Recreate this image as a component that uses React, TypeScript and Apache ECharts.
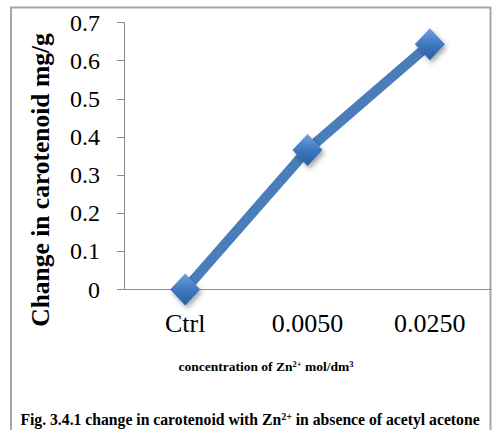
import React, { useEffect, useRef } from "react";
import * as echarts from "echarts";

const categories = ["Ctrl", "0.0050", "0.0250"];
const carotenoid = [0, 0.366, 0.643];
const yTicks = { min: 0, max: 0.7, interval: 0.1 };
const yTitle = "Change in carotenoid mg/g";
const xTitle = "{b|concentration of Zn}{s|2+}{b| mol/dm}{s|3}";
const caption = "{b|Fig. 3.4.1 change in carotenoid with Zn}{s|2+}{b| in absence of acetyl acetone}";

const FONT = '"Liberation Serif", "Times New Roman", serif';

export default function App() {
  const ref = useRef<HTMLDivElement>(null);
  useEffect(() => {
    if (!ref.current) return;
    const chart = echarts.init(ref.current, null, { renderer: "svg" });
    chart.setOption({
      animation: false,
      backgroundColor: "#ffffff",
      textStyle: { fontFamily: FONT },
      grid: { left: 124, right: 2, top: 22.5, bottom: 140.5, containLabel: false },
      xAxis: {
        type: "category",
        data: categories,
        boundaryGap: true,
        axisLine: { lineStyle: { color: "#8c8c8c", width: 1 } },
        axisTick: { show: false },
        axisLabel: { color: "#000", fontFamily: FONT, fontSize: 26, margin: 21 },
      },
      yAxis: {
        type: "value",
        min: yTicks.min,
        max: yTicks.max,
        interval: yTicks.interval,
        axisLine: { show: true, lineStyle: { color: "#8c8c8c", width: 1 } },
        axisTick: { show: true, length: 7, lineStyle: { color: "#8c8c8c" } },
        splitLine: { show: false },
        axisLabel: {
          color: "#000",
          fontFamily: FONT,
          fontSize: 24,
          margin: 24,
          formatter: (v: number) => (v === 0 ? "0" : v.toFixed(1)),
        },
      },
      series: [
        {
          type: "line",
          data: carotenoid,
          lineStyle: { color: "#4a7ebb", width: 10 },
          symbol: "diamond",
          symbolSize: [30, 32],
          itemStyle: {
            color: new echarts.graphic.LinearGradient(0, 0, 0, 1, [
              { offset: 0, color: "#6fa0dc" },
              { offset: 0.5, color: "#3f78c0" },
              { offset: 1, color: "#2a5f9e" },
            ]),
            shadowColor: "rgba(0,0,0,0.35)",
            shadowBlur: 5,
            shadowOffsetX: 2,
            shadowOffsetY: 3,
          },
          z: 3,
        },
      ],
      graphic: [
        {
          type: "rect",
          shape: { x: 11, y: 7.5, width: 479.5, height: 440 },
          style: { fill: "none", stroke: "#a6a6a6", lineWidth: 2 },
          silent: true,
          z: -1,
        },
        {
          type: "text",
          x: 40,
          y: 180,
          rotation: Math.PI / 2,
          style: {
            text: yTitle,
            font: `bold 25.5px ${FONT}`,
            fill: "#000",
            align: "center",
            verticalAlign: "middle",
          },
        },
        {
          type: "text",
          x: 266,
          y: 366,
          style: {
            text: xTitle,
            align: "center",
            verticalAlign: "middle",
            rich: {
              b: { fontFamily: FONT, fontWeight: "bold", fontSize: 13.5, color: "#000" },
              s: { fontFamily: FONT, fontWeight: "bold", fontSize: 8.5, color: "#000", verticalAlign: "top", padding: [0, 0, 5, 0] },
            },
          },
        },
        {
          type: "text",
          x: 250,
          y: 419,
          style: {
            text: caption,
            align: "center",
            verticalAlign: "middle",
            rich: {
              b: { fontFamily: FONT, fontWeight: "bold", fontSize: 15.7, color: "#000" },
              s: { fontFamily: FONT, fontWeight: "bold", fontSize: 10, color: "#000", verticalAlign: "top", padding: [0, 0, 6, 0] },
            },
          },
        },
      ],
    });
    return () => chart.dispose();
  }, []);
  return <div ref={ref} style={{ width: 493, height: 430, position: "absolute", left: 0, top: 0 }} />;
}
